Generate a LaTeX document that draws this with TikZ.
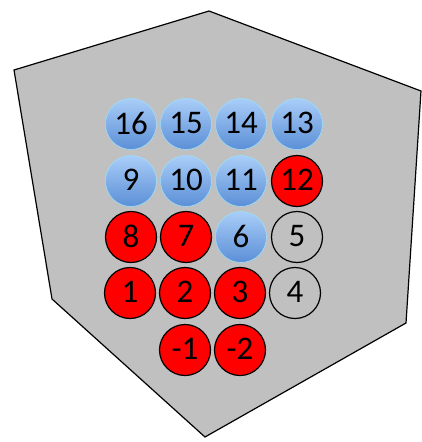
\documentclass[tikz,border=0pt]{standalone}
\usepackage{fontspec}
\setmainfont{Carlito}
\begin{document}
\begin{tikzpicture}[x=1pt,y=-1pt,
  ball/.style={circle,minimum size=51pt,inner sep=0pt,font=\fontsize{33}{33}\selectfont,text=black},
  blueball/.style={ball,draw=blue!30!cyan!40!white,line width=0.6pt,top color=bluetop,bottom color=bluebot},
  redball/.style={ball,draw=black,line width=1.2pt,fill=red},
  greyball/.style={ball,draw=black,line width=1.2pt,fill=bg}]
\definecolor{bg}{HTML}{C0C0C0}
\definecolor{bluetop}{HTML}{A9CDF8}
\definecolor{bluebot}{HTML}{5B8FD6}
\useasboundingbox (0,0) rectangle (422,442);
\fill[white] (0,0) rectangle (422,442);
\draw[fill=bg,line width=1.2pt,line join=miter] (209,11) -- (421,91) -- (406,323) -- (205,437) -- (52,299) -- (14,70) -- cycle;
\tikzset{lab/.style={yshift=2pt}}
% row 1
\node[blueball] (n16) at (131,124) {\raisebox{2pt}{16}};
\node[blueball] (n15) at (186,124) {\raisebox{2pt}{15}};
\node[blueball] (n14) at (241,124) {\raisebox{2pt}{14}};
\node[blueball] (n13) at (297,124) {\raisebox{2pt}{13}};
% row 2
\node[blueball] (n9) at (131,181) {\raisebox{2pt}{9}};
\node[blueball] (n10) at (186,181) {\raisebox{2pt}{10}};
\node[blueball] (n11) at (241,181) {\raisebox{2pt}{11}};
\node[redball] (n12) at (297,181) {\raisebox{2pt}{12}};
% row 3
\node[redball] (n8) at (131,237) {\raisebox{2pt}{8}};
\node[redball] (n7) at (186,237) {\raisebox{2pt}{7}};
\node[blueball] (n6) at (241,237) {\raisebox{2pt}{6}};
\node[greyball] (n5) at (297,237) {\raisebox{2pt}{5}};
% row 4
\node[redball] (n1) at (130,293) {\raisebox{2pt}{1}};
\node[redball] (n2) at (185,293) {\raisebox{2pt}{2}};
\node[redball] (n3) at (240,293) {\raisebox{2pt}{3}};
\node[greyball] (n4) at (295,293) {\raisebox{2pt}{4}};
% row 5
\node[redball] (nm1) at (185,350) {\raisebox{2pt}{-1}};
\node[redball] (nm2) at (240,350) {\raisebox{2pt}{-2}};
\end{tikzpicture}
\end{document}
